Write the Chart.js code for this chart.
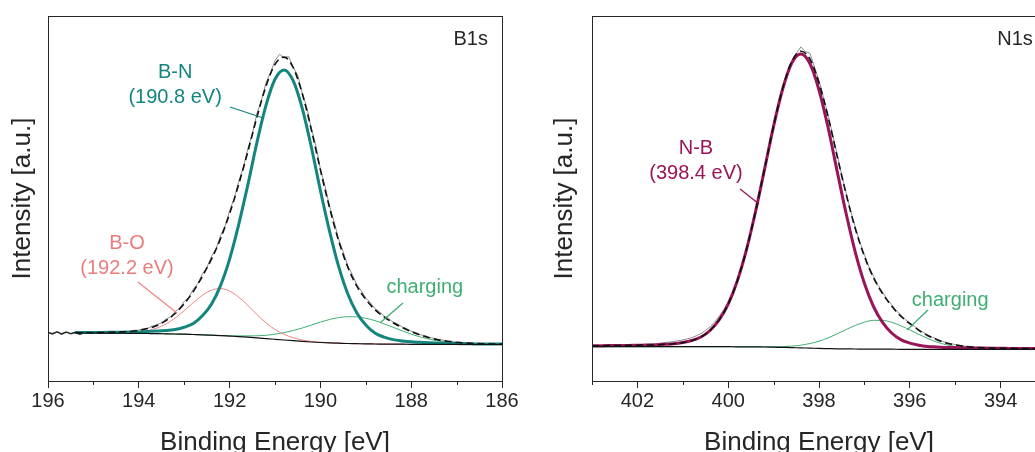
<!DOCTYPE html>
<html>
<head>
<meta charset="utf-8">
<script src="https://cdn.jsdelivr.net/npm/chart.js@4.4.0/dist/chart.umd.min.js"></script>
<style>
  html, body { margin: 0; padding: 0; background: #fff; overflow: hidden; width: 1035px; height: 452px; }
  .panel { position: absolute; top: 0; height: 475px; }
  #boxB { left: 0; width: 540px; }
  #boxN { left: 530px; width: 554px; }
</style>
</head>
<body>
<div class="panel" id="boxB"><canvas id="chartB"></canvas></div>
<div class="panel" id="boxN"><canvas id="chartN"></canvas></div>
<script>
// ---- B1s panel: fitted curves (binding energy in eV, intensity in a.u.)
const energyB = [195.4,195.2,195.0,194.8,194.6,194.4,194.2,194.0,193.8,193.6,
  193.4,193.2,193.0,192.8,192.6,192.4,192.2,192.0,191.8,191.6,
  191.4,191.2,191.0,190.8,190.6,190.4,190.2,190.0,189.8,189.6,
  189.4,189.2,189.0,188.8,188.6,188.4,188.2,188.0,187.8,187.6,
  187.4,187.2,187.0,186.8,186.6,186.4,186.2,186.0];
const bgB = [48.0,48.0,48.0,47.9,47.9,47.8,47.7,47.6,47.5,47.4,
  47.2,47.0,46.8,46.5,46.2,45.8,45.4,44.9,44.4,43.8,
  43.1,42.4,41.7,41.0,40.3,39.6,39.0,38.5,38.1,37.8,
  37.5,37.3,37.1,37.0,36.9,36.8,36.8,36.7,36.7,36.7,
  36.6,36.6,36.6,36.6,36.5,36.5,36.5,36.5];
const bnB = [48.5,48.5,48.6,48.6,48.7,48.8,48.9,49.1,49.5,49.9,
  50.5,51.6,53.8,57.5,65.2,76.8,95.4,121.9,156.4,195.8,
  238.1,275.4,301.7,311.0,300.3,272.6,234.0,190.5,150.1,114.8,
  87.5,68.3,56.1,48.0,43.9,41.4,40.1,39.2,38.7,38.2,
  37.8,37.6,37.4,37.3,37.1,37.0,37.0,37.0];
const boB = [48.0,48.0,48.0,47.9,48.0,48.1,48.3,49.0,50.5,53.0,
  57.1,62.9,70.3,78.4,85.7,90.8,92.4,89.9,83.9,75.7,
  66.6,58.3,51.6,46.6,43.3,41.0,39.6,38.8,38.2,37.8,
  37.5,37.3,37.1,37.0,36.9,36.8,36.8,36.7,36.7,36.7,
  36.6,36.6,36.6,36.6,36.5,36.5,36.5,36.5];
const chB = [48.0,48.0,48.0,47.9,47.9,47.8,47.7,47.6,47.5,47.4,
  47.2,47.0,46.8,46.5,46.2,45.8,45.5,45.3,45.1,45.1,
  45.2,45.7,46.8,48.3,50.5,53.0,55.9,58.8,61.5,63.4,
  64.3,64.1,62.7,60.4,57.2,53.7,50.2,46.9,44.0,41.8,
  39.9,38.7,37.9,37.3,36.9,36.7,36.6,36.5];
const envB = [48.1,48.2,48.3,48.5,48.8,49.1,49.5,50.5,52.5,55.5,
  60.4,67.5,77.3,89.4,104.7,121.8,142.4,167.3,196.6,229.0,
  263.7,294.6,316.7,323.9,313.5,287.4,251.5,211.1,173.6,140.4,
  114.3,95.1,81.7,71.4,64.2,58.3,53.5,49.4,46.0,43.3,
  41.1,39.7,38.7,38.0,37.5,37.2,37.0,36.9];

// ---- B1s measured spectrum
const rawEnergyB = [196.0,195.9,195.8,195.7,195.6,195.5,195.4,195.3,195.2,195.1,
  195.0,194.9,194.8,194.7,194.6,194.5,194.4,194.3,194.2,194.1,
  194.0,193.9,193.8,193.7,193.6,193.5,193.4,193.3,193.2,193.1,
  193.0,192.9,192.8,192.7,192.6,192.5,192.4,192.3,192.2,192.1,
  192.0,191.9,191.8,191.7,191.6,191.5,191.4,191.3,191.2,191.1,
  191.0,190.9,190.8,190.7,190.6,190.5,190.4,190.3,190.2,190.1,
  190.0,189.9,189.8,189.7,189.6,189.5,189.4,189.3,189.2,189.1,
  189.0,188.9,188.8,188.7,188.6,188.5,188.4,188.3,188.2,188.1,
  188.0,187.9,187.8,187.7,187.6,187.5,187.4,187.3,187.2,187.1,
  187.0,186.9,186.8,186.7,186.6,186.5,186.4,186.3,186.2,186.1,
  186.0];
const rawB = [48.6,47.2,49.2,47.0,48.9,47.3,48.6,46.8,48.3,48.4,
  48.2,48.5,48.3,48.9,48.7,49.3,49.0,49.8,49.6,50.6,
  50.9,52.3,52.8,55.0,56.4,58.2,61.9,64.1,69.4,72.8,
  79.5,83.6,91.8,97.5,107.1,113.6,124.5,132.2,145.3,155.1,
  170.2,182.4,199.5,213.3,232.1,247.0,267.2,280.4,298.0,308.1,
  320.5,326.8,323.2,324.6,314.0,305.9,288.0,273.8,252.4,235.6,
  212.0,195.4,175.1,159.6,142.2,129.5,115.6,106.8,96.3,90.4,
  82.9,78.4,72.5,69.3,64.9,62.8,58.9,57.2,53.9,52.4,
  49.7,48.5,46.2,45.5,43.4,42.8,41.0,41.0,39.6,39.8,
  38.5,38.7,37.9,38.1,37.4,37.6,37.1,37.3,36.9,37.1,
  36.8];

// ---- N1s panel: fitted curves
const energyN = [403.0,402.8,402.6,402.4,402.2,402.0,401.8,401.6,401.4,401.2,
  401.0,400.8,400.6,400.4,400.2,400.0,399.8,399.6,399.4,399.2,
  399.0,398.8,398.6,398.4,398.2,398.0,397.8,397.6,397.4,397.2,
  397.0,396.8,396.6,396.4,396.2,396.0,395.8,395.6,395.4,395.2,
  395.0,394.8,394.6,394.4,394.2,394.0,393.8,393.6,393.4,393.2,
  393.0];
const bgN = [34.3,34.3,34.3,34.3,34.3,34.3,34.3,34.3,34.3,34.3,
  34.3,34.3,34.3,34.3,34.3,34.3,34.2,34.2,34.1,34.0,
  33.8,33.6,33.4,33.1,32.9,32.6,32.4,32.2,32.1,32.0,
  31.9,31.9,31.8,31.8,31.7,31.7,31.7,31.7,31.7,31.7,
  31.7,31.7,31.7,31.7,31.7,31.7,31.7,31.7,31.7,31.7,
  31.7];
const nbN = [35.2,35.3,35.4,35.5,35.6,35.8,36.0,36.1,36.7,37.2,
  38.4,40.5,44.0,50.5,61.1,76.9,100.1,130.9,169.0,211.6,
  254.9,292.0,318.0,327.1,317.5,291.0,253.5,209.8,167.0,128.7,
  97.8,74.5,58.6,48.0,41.4,37.9,35.8,34.6,34.1,33.5,
  33.4,33.2,33.0,32.9,32.8,32.7,32.6,32.5,32.5,32.4,
  32.4];
const chN = [34.3,34.3,34.3,34.3,34.3,34.3,34.3,34.3,34.3,34.3,
  34.3,34.3,34.3,34.3,34.3,34.3,34.2,34.2,34.2,34.2,
  34.2,34.4,34.9,35.8,37.5,39.8,43.1,47.1,51.5,55.6,
  58.8,60.7,60.6,58.7,55.3,51.1,46.6,42.4,38.9,36.3,
  34.4,33.2,32.5,32.1,31.9,31.8,31.7,31.7,31.7,31.7,
  31.7];
const envN = [35.2,35.3,35.4,35.5,35.6,35.8,36.0,36.1,36.7,37.2,
  38.4,40.5,44.0,50.5,61.1,76.9,100.1,130.9,169.1,211.8,
  255.3,292.8,319.5,329.8,322.1,298.2,264.2,224.7,186.4,152.3,
  124.7,103.3,87.4,74.9,65.0,57.3,50.7,45.3,41.3,38.1,
  36.1,34.7,33.8,33.3,33.0,32.8,32.6,32.5,32.5,32.4,
  32.4];

// ---- N1s measured spectrum
const rawEnergyN = [403.0,402.9,402.8,402.7,402.6,402.5,402.4,402.3,402.2,402.1,
  402.0,401.9,401.8,401.7,401.6,401.5,401.4,401.3,401.2,401.1,
  401.0,400.9,400.8,400.7,400.6,400.5,400.4,400.3,400.2,400.1,
  400.0,399.9,399.8,399.7,399.6,399.5,399.4,399.3,399.2,399.1,
  399.0,398.9,398.8,398.7,398.6,398.5,398.4,398.3,398.2,398.1,
  398.0,397.9,397.8,397.7,397.6,397.5,397.4,397.3,397.2,397.1,
  397.0,396.9,396.8,396.7,396.6,396.5,396.4,396.3,396.2,396.1,
  396.0,395.9,395.8,395.7,395.6,395.5,395.4,395.3,395.2,395.1,
  395.0,394.9,394.8,394.7,394.6,394.5,394.4,394.3,394.2,394.1,
  394.0,393.9,393.8,393.7,393.6,393.5,393.4,393.3,393.2,393.1,
  393.0];
const rawN = [35.0,35.4,35.2,35.5,35.3,35.6,35.4,35.8,35.7,36.0,
  36.1,36.4,36.6,37.0,37.3,37.8,38.4,38.9,39.5,40.3,
  41.0,42.2,43.4,45.3,47.4,50.6,54.1,58.8,64.5,71.0,
  79.2,88.6,100.3,114.8,131.2,149.6,169.5,190.4,212.0,234.1,
  255.8,275.0,293.5,307.9,320.4,327.6,334.0,329.5,327.8,314.0,
  300.4,283.6,266.0,246.5,226.8,206.1,188.0,169.6,154.0,138.7,
  126.4,114.2,104.9,95.8,88.9,82.0,76.2,70.4,66.1,61.5,
  58.3,54.6,51.4,48.6,45.9,43.8,41.8,40.0,38.6,37.4,
  36.4,35.6,34.9,34.4,33.9,33.6,33.4,33.1,33.0,32.9,
  32.8,32.7,32.6,32.6,32.5,32.5,32.4,32.5,32.4,32.3,
  32.4];

// tick labels
const ticksB = [196, 194, 192, 190, 188, 186];
const ticksN = [402, 400, 398, 396, 394];

const FONT = '"Liberation Sans", Arial, Helvetica, sans-serif';
const INK = '#262626';
const TEAL = '#13857e';
const SALMON = '#f08585';
const SALMON_T = '#e97c7c';
const GREEN = '#3fae72';
const PLUM = '#9a1458';

function pts(xs, ys) {
  return xs.map((x, i) => ({ x: x, y: ys[i] }));
}

// box around the plot area + unlabelled minor ticks every 1 eV
const frame = {
  id: 'frame',
  afterDraw(chart) {
    const { ctx, chartArea: a } = chart;
    const xs = chart.scales.x;
    ctx.save();
    ctx.strokeStyle = INK;
    ctx.lineWidth = 1;
    ctx.strokeRect(Math.round(a.left) + 0.5, Math.round(a.top) + 0.5,
      Math.round(a.right - a.left), Math.round(a.bottom - a.top));
    for (let v = Math.ceil(xs.min); v <= xs.max; v++) {
      if (v % 2 === 0) continue;
      const px = Math.round(xs.getPixelForValue(v)) + 0.5;
      ctx.beginPath();
      ctx.moveTo(px, a.bottom);
      ctx.lineTo(px, a.bottom + 4);
      ctx.stroke();
    }
    ctx.restore();
  }
};

// peak labels with their pointer lines, placed in data coordinates
function makeNotes(notes) {
  return {
    id: 'notes',
    afterDatasetsDraw(chart) {
      const { ctx } = chart;
      const xs = chart.scales.x, ys = chart.scales.y;
      ctx.save();
      notes.leaders.forEach(l => {
        ctx.strokeStyle = l.color;
        ctx.lineWidth = 1.3;
        ctx.beginPath();
        ctx.moveTo(xs.getPixelForValue(l.x0), ys.getPixelForValue(l.y0));
        ctx.lineTo(xs.getPixelForValue(l.x1), ys.getPixelForValue(l.y1));
        ctx.stroke();
      });
      notes.labels.forEach(n => {
        ctx.font = '20px ' + FONT;
        ctx.fillStyle = n.color;
        ctx.textAlign = n.align || 'center';
        ctx.textBaseline = 'middle';
        ctx.fillText(n.text, xs.getPixelForValue(n.x), ys.getPixelForValue(n.y));
      });
      ctx.restore();
    }
  };
}

function makePanel(id, cfg) {
  return new Chart(document.getElementById(id), {
    type: 'line',
    data: { datasets: cfg.datasets },
    options: {
      responsive: true,
      maintainAspectRatio: false,
      animation: false,
      layout: { padding: { top: 16, right: 38, left: 0, bottom: 0 } },
      plugins: { legend: { display: false }, tooltip: { enabled: false } },
      elements: { point: { radius: 0 }, line: { cubicInterpolationMode: 'monotone' } },
      scales: {
        x: {
          type: 'linear',
          reverse: true,
          min: cfg.xMin,
          max: cfg.xMax,
          afterBuildTicks: s => { s.ticks = cfg.ticks.map(v => ({ value: v })); },
          afterFit: s => { s.height = 94; },
          grid: { drawOnChartArea: false, drawTicks: true, tickLength: 7, color: INK },
          border: { display: false },
          ticks: { font: { family: FONT, size: 20 }, color: INK, padding: 1, maxRotation: 0, autoSkip: false },
          title: {
            display: true, text: 'Binding Energy [eV]', color: INK,
            font: { family: FONT, size: 26 }, padding: { top: 0, bottom: 17 }
          }
        },
        y: {
          min: 0,
          max: 365,
          afterFit: s => { s.width = cfg.yWidth; },
          grid: { display: false },
          border: { display: false },
          ticks: { display: false },
          title: {
            display: true, text: 'Intensity [a.u.]', color: INK,
            font: { family: FONT, size: 26 }, padding: { top: cfg.yTitlePad, bottom: 0 }
          }
        }
      }
    },
    plugins: [frame, makeNotes(cfg.notes)]
  });
}

makePanel('chartB', {
  xMin: 186, xMax: 196, ticks: ticksB, yWidth: 48, yTitlePad: 7,
  datasets: [
    { label: 'Envelope', data: pts(energyB, envB), borderColor: '#111', borderWidth: 1.6, borderDash: [7, 4], order: 1 },
    { label: 'Background', data: pts(energyB, bgB), borderColor: '#111', borderWidth: 1.2, order: 2 },
    { label: 'B-N', data: pts(energyB, bnB), borderColor: TEAL, borderWidth: 3, order: 3 },
    { label: 'B-O', data: pts(energyB, boB), borderColor: SALMON, borderWidth: 1, order: 4 },
    { label: 'charging', data: pts(energyB, chB), borderColor: GREEN, borderWidth: 1, order: 5 },
    {
      label: 'Raw', data: pts(rawEnergyB, rawB), borderColor: '#8c8c8c', borderWidth: 1, order: 6,
      cubicInterpolationMode: 'default', tension: 0,
      segment: {
        borderColor: c => c.p0.parsed.x > 195.25 ? '#2b2b2b' : '#8c8c8c',
        borderWidth: c => c.p0.parsed.x > 195.25 ? 1.6 : 1
      }
    }
  ],
  notes: {
    labels: [
      { text: 'B1s', x: 186.31, y: 342, color: INK, align: 'right' },
      { text: 'B-N', x: 193.2, y: 309, color: TEAL },
      { text: '(190.8 eV)', x: 193.2, y: 284, color: TEAL },
      { text: 'B-O', x: 194.26, y: 138, color: SALMON_T },
      { text: '(192.2 eV)', x: 194.26, y: 113, color: SALMON_T },
      { text: 'charging', x: 187.70, y: 94, color: GREEN }
    ],
    leaders: [
      { x0: 191.99, y0: 274, x1: 191.26, y1: 263, color: TEAL },
      { x0: 194.02, y0: 99, x1: 193.16, y1: 68, color: SALMON },
      { x0: 188.18, y0: 78, x1: 188.69, y1: 58, color: GREEN }
    ]
  }
});

makePanel('chartN', {
  xMin: 393, xMax: 403, ticks: ticksN, yWidth: 62, yTitlePad: 19,
  datasets: [
    { label: 'Envelope', data: pts(energyN, envN), borderColor: '#111', borderWidth: 1.6, borderDash: [7, 4], order: 1 },
    { label: 'Background', data: pts(energyN, bgN), borderColor: '#111', borderWidth: 1.2, order: 2 },
    { label: 'N-B', data: pts(energyN, nbN), borderColor: PLUM, borderWidth: 3, order: 3 },
    { label: 'charging', data: pts(energyN, chN), borderColor: GREEN, borderWidth: 1, order: 4 },
    { label: 'Raw', data: pts(rawEnergyN, rawN), borderColor: '#8c8c8c', borderWidth: 1, order: 5, cubicInterpolationMode: 'default', tension: 0 }
  ],
  notes: {
    labels: [
      { text: 'N1s', x: 393.29, y: 342, color: INK, align: 'right' },
      { text: 'N-B', x: 400.71, y: 233, color: PLUM },
      { text: '(398.4 eV)', x: 400.71, y: 208, color: PLUM },
      { text: 'charging', x: 395.11, y: 81, color: GREEN }
    ],
    leaders: [
      { x0: 399.74, y0: 192, x1: 399.32, y1: 177, color: PLUM },
      { x0: 395.60, y0: 71, x1: 396.06, y1: 51, color: GREEN }
    ]
  }
});
</script>
</body>
</html>
